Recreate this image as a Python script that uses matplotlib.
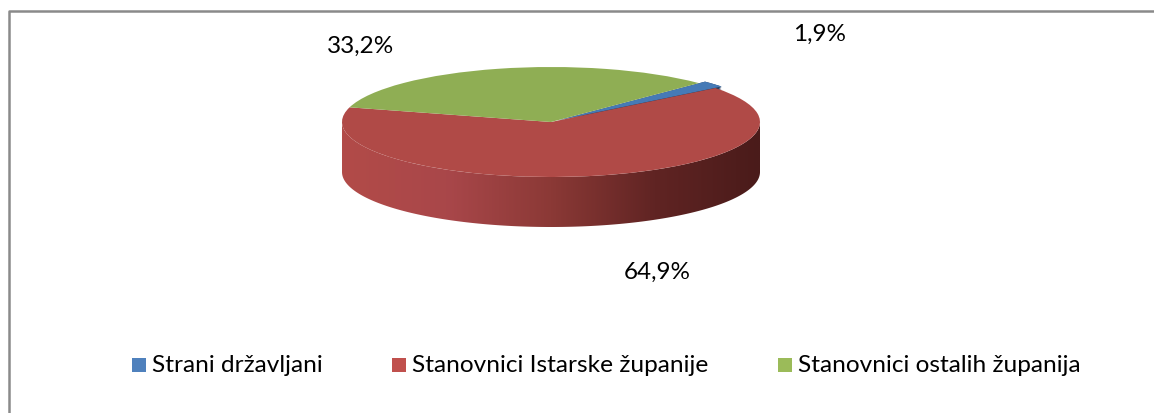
import numpy as np
import matplotlib.pyplot as plt
from matplotlib.patches import Wedge, Polygon
from matplotlib.colors import LinearSegmentedColormap

# data
categories = ["Strani državljani", "Stanovnici Istarske županije", "Stanovnici ostalih županija"]
shares = [1.9, 64.9, 33.2]
pct_labels = ["1,9%", "64,9%", "33,2%"]

top_colors = ["#467AB6", "#B04A47", "#8FAE54"]
side_colors = ["#1F3A5C", "#8A3835", "#5E7436"]
legend_colors = ["#4F81BD", "#C0504D", "#9BBB59"]

W, H = 1154, 413
cx, cy = 551, 122       # pie centre in pixels
rx, ry = 209, 55        # ellipse radii in pixels
depth = 50              # thickness of the pie in pixels

plt.rcParams['font.family'] = ['Lato', 'DejaVu Sans']
fig = plt.figure(figsize=(W / 100, H / 100), dpi=100)

# pixel axes for frame, labels and legend
bg = fig.add_axes([0, 0, 1, 1])
bg.set_xlim(0, W)
bg.set_ylim(H, 0)
bg.axis('off')
bg.plot([9, 9, W + 10], [H + 10, 11, 11], color='#8A8A8A', lw=1.8, solid_capstyle='butt')

# squashed axes for the pie: 1 unit = rx px horizontally, ry px vertically
ax = fig.add_axes([0, 0, 1, 1])
d = depth / ry
wedges, _ = ax.pie(shares, colors=top_colors, startangle=45, counterclock=False,
                   explode=[0.04, 0, 0], radius=1,
                   wedgeprops=dict(linewidth=0, zorder=3))
ax.set_aspect('auto')
ax.axis('off')

side_cmap = LinearSegmentedColormap.from_list(
    "side", ["#B24B48", "#A9474A", "#8B3936", "#602423", "#4A1B1A"])

for i, w in enumerate(wedges):
    c0, c1 = w.center
    t1, t2 = w.theta1, w.theta2
    # thin wedge at the back: dark slab below it
    if i == 0:
        for off in np.linspace(-d, 0, 40):
            ax.add_patch(Wedge((c0, c1 + off), 1, t1, t2, color=side_colors[i],
                               lw=0, zorder=1))
        continue
    # front wall: part of the arc with angle in [-180, 0]
    for k in (-720, -360, 0, 360):
        a = max(t1 + k, -180)
        b = min(t2 + k, 0)
        if b <= a:
            continue
        t = np.radians(np.linspace(a, b, 200))
        xs = c0 + np.cos(t)
        ys = c1 + np.sin(t)
        pts = np.column_stack([np.r_[xs, xs[::-1]], np.r_[ys, ys[::-1] - d]])
        poly = Polygon(pts, closed=True, facecolor='none', edgecolor='none')
        ax.add_patch(poly)
        im = ax.imshow(np.linspace(0, 1, 256)[None, :], cmap=side_cmap, aspect='auto',
                       extent=[c0 - 1, c0 + 1, c1 - 1 - d, c1], interpolation='bilinear',
                       zorder=2)
        im.set_clip_path(poly)

ax.set_xlim(-cx / rx, (W - cx) / rx)
ax.set_ylim(-(H - cy) / ry, cy / ry)

# percentage labels
label_pos = [(820, 34), (657, 272), (361, 46)]
for txt, (x, y) in zip(pct_labels, label_pos):
    bg.text(x, y, txt, fontsize=17.5, ha='center', va='center', color='#000000')

# legend
sq = 14
legend_x = [132, 392, 778]
ly = 365
for name, col, x in zip(categories, legend_colors, legend_x):
    bg.add_patch(plt.Rectangle((x, ly - sq / 2), sq, sq, color=col, lw=0))
    bg.text(x + sq + 6, ly, name, fontsize=17.6, ha='left', va='center', color='#000000')

fig.savefig("out.png", dpi=100)
